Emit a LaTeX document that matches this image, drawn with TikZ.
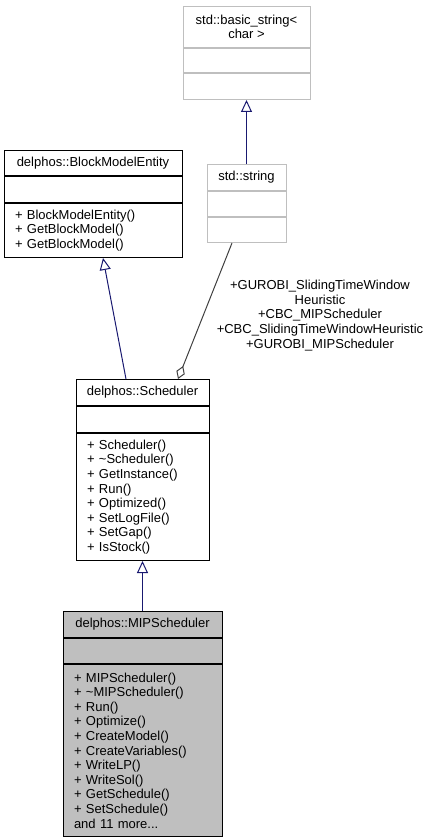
\documentclass[tikz,border=0pt]{standalone}
\usepackage{fontspec}
\setmainfont{Liberation Sans}
\usetikzlibrary{positioning, arrows.meta}
\tikzset{
    >=Stealth,
    every node/.style={font=\fontsize{13}{14.6}\selectfont}
}

\begin{document}
\begin{tikzpicture}[x=1pt, y=-1pt]
  % doxygen-like colours
  \definecolor{edgeBlue}{RGB}{25,25,112}   % midnightblue
  \definecolor{edgeGrey}{RGB}{64,64,64}    % grey25
  \definecolor{extGrey}{RGB}{191,191,191}  % grey75

  % one compartment of a class box
  \tikzset{
    part/.style={draw=black, line width=1pt, inner sep=0pt, align=center, anchor=north},
    extpart/.style={part, draw=extGrey},
    members/.style={part, align=left, inner xsep=11pt, text width=#1},
    inherit/.style={draw=edgeBlue, line width=1pt, -{Triangle[open, length=12pt, width=11pt]}},
    uses/.style={draw=edgeGrey, line width=1pt, {Diamond[open, length=14pt, width=9pt]}-}
  }

  \useasboundingbox (0,0) rectangle (432,840);

  % external classes
  \node[extpart, minimum width=127pt, minimum height=41pt] (basicName) at (246.5,6) {std::basic\_string<\\char >};
  \node[extpart, minimum width=127pt, minimum height=24pt, below=0pt of basicName] (basicAttr) {};
  \node[extpart, minimum width=127pt, minimum height=26pt, below=0pt of basicAttr] (basicOps) {};

  \node[extpart, minimum width=79pt, minimum height=26pt] (strName) at (246.5,164) {std::string};
  \node[extpart, minimum width=79pt, minimum height=25pt, below=0pt of strName] (strAttr) {};
  \node[extpart, minimum width=79pt, minimum height=25pt, below=0pt of strAttr] (strOps) {};

  % base class
  \node[part, minimum width=178pt, minimum height=25pt] (bmeName) at (93,150) {delphos::BlockModelEntity};
  \node[part, minimum width=178pt, minimum height=26pt, below=0pt of bmeName] (bmeAttr) {};
  \node[members=156pt, minimum height=54pt, below=0pt of bmeAttr] (bmeOps) {+ BlockModelEntity()\\+ GetBlockModel()\\+ GetBlockModel()};

  % scheduler
  \node[part, minimum width=133pt, minimum height=26pt] (schedName) at (142.5,379) {delphos::Scheduler};
  \node[part, minimum width=133pt, minimum height=26pt, below=0pt of schedName] (schedAttr) {};
  \node[members=111pt, minimum height=127pt, below=0pt of schedAttr] (schedOps) {+ Scheduler()\\+ \textasciitilde Scheduler()\\+ GetInstance()\\+ Run()\\+ Optimized()\\+ SetLogFile()\\+ SetGap()\\+ IsStock()};

  % the documented class
  \node[part, fill=extGrey, minimum width=159pt, minimum height=26pt] (mipName) at (142.5,611) {delphos::MIPScheduler};
  \node[part, fill=extGrey, minimum width=159pt, minimum height=25pt, below=0pt of mipName] (mipAttr) {};
  \node[members=137pt, fill=extGrey, minimum height=172pt, below=0pt of mipAttr] (mipOps) {+ MIPScheduler()\\+ \textasciitilde MIPScheduler()\\+ Run()\\+ Optimize()\\+ CreateModel()\\+ CreateVariables()\\+ WriteLP()\\+ WriteSol()\\+ GetSchedule()\\+ SetSchedule()\\and 11 more...};

  % relations
  \draw[inherit] (strName.north) -- (basicOps.south);
  \draw[inherit] ([xshift=-16.5pt]schedName.north) -- ([xshift=10pt]bmeOps.south);
  \draw[inherit] (mipName.north) -- (schedOps.south);
  \draw[uses] ([xshift=35.5pt]schedName.north) -- ([xshift=-14.5pt]strOps.south);
  \node[align=center] (roles) at (320,315.5) {+GUROBI\_SlidingTimeWindow\\Heuristic\\+CBC\_MIPScheduler\\+CBC\_SlidingTimeWindowHeuristic\\+GUROBI\_MIPScheduler};
\end{tikzpicture}
\end{document}
